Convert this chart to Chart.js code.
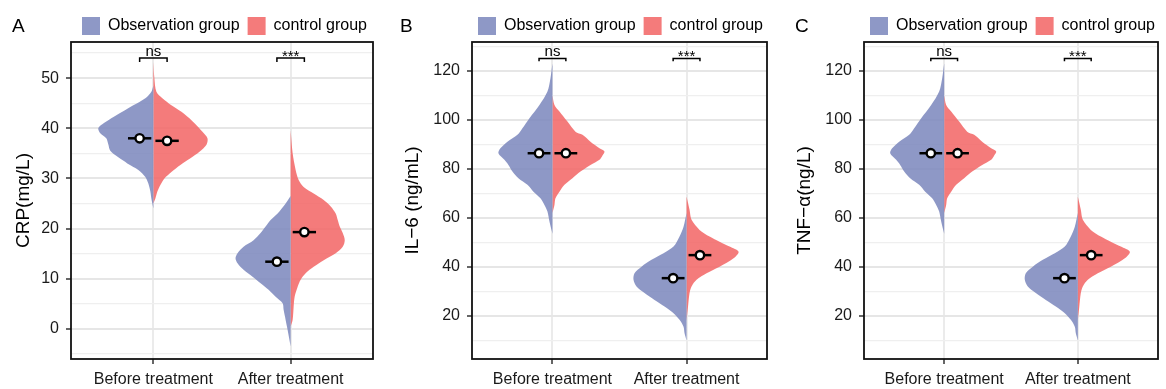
<!DOCTYPE html>
<html>
<head>
<meta charset="utf-8">
<script src="https://cdn.jsdelivr.net/npm/chart.js@4.4.1/dist/chart.umd.min.js"></script>
<style>
  body { margin: 0; background: #fff; }
  .panel { position: absolute; top: 0; height: 389px; }
</style>
</head>
<body>
<div class="panel" style="left:0;width:390px"><canvas id="chartA"></canvas></div>
<div class="panel" style="left:390px;width:388px"><canvas id="chartB"></canvas></div>
<div class="panel" style="left:780px;width:386px"><canvas id="chartC"></canvas></div>
<script>
const FONT = "'Liberation Sans', Arial, sans-serif";
const CATEGORIES = ['Before treatment', 'After treatment'];
const GROUPS = ['Observation group', 'control group'];
const SIG_LABELS = ['ns', '***'];
const OBS_COLOR = 'rgba(122,134,188,0.85)';
const CTL_COLOR = 'rgba(242,100,100,0.85)';

// violin outlines: [value, half-width density], top to bottom
const crpBeforeObs = [[48.5,0],[47.3,2],[46.0,8],[44.6,20],[43.3,31],[42.0,42],[40.8,51],[40.0,55],[39.0,53],[38.0,47],[36.8,45],[35.5,43],[34.2,35],[33.0,26],[31.7,15],[30.3,8],[29.0,5],[27.4,3],[26.0,2],[24.0,0]];
const crpBeforeCtl = [[53.2,0],[50.0,1],[47.3,3],[46.0,9],[44.6,18],[43.3,28],[42.0,36],[40.6,43],[39.3,49],[38.0,54],[36.7,53],[35.3,46],[34.0,37],[32.7,27],[31.3,18],[30.0,11],[28.7,7],[27.4,4],[26.0,2],[25.0,0]];
const crpAfterObs = [[26.5,0],[25.0,5],[23.0,13],[21.7,20],[20.4,25],[19.1,30],[17.7,37],[16.4,47],[15.1,53],[14.1,55],[13.1,53],[11.8,47],[10.4,38],[9.1,30],[7.8,22],[6.4,15],[5.1,8],[3.8,7],[1.8,5],[-0.2,3],[-3.5,0]];
const crpAfterCtl = [[39.6,0],[35.0,2],[31.7,5],[29.7,8],[28.3,13],[27.0,23],[25.7,33],[24.4,40],[23.0,45],[21.7,47],[20.4,49],[19.1,52],[17.7,54],[16.4,52],[15.1,45],[13.7,33],[12.4,23],[11.1,15],[9.8,10],[8.4,7],[6.4,4],[4.4,3],[1.8,2],[0.5,0]];
const crpMeanObs = [38.0, 13.4];
const crpMeanCtl = [37.5, 19.3];
const crpSigY = [54.0, 54.0];
const crpTicks = [0, 10, 20, 30, 40, 50];
const crpMinor = [-5, 5, 15, 25, 35, 45, 55];

const il6BeforeObs = [[123,0],[117.0,2],[111.6,5],[106.1,13],[100.7,23],[96.6,30],[93.9,35],[91.1,45],[88.4,52],[86.4,54],[83.7,48],[81.6,44],[78.9,40],[76.2,34],[73.5,25],[70.7,19],[68.0,12],[65.3,8],[62.6,5],[58.5,3],[53.5,0]];
const il6BeforeCtl = [[110,0],[106.1,2],[103.4,7],[99.3,15],[95.2,23],[93.9,30],[91.1,38],[88.4,47],[87.1,52],[85.5,50],[83.7,47],[81.6,38],[78.9,28],[76.2,20],[73.5,12],[70.7,7],[68.0,3],[65.3,2],[62,0]];
const il6AfterObs = [[62,0],[59,1.5],[56.4,3],[52.4,7],[48.3,13],[45.6,23],[42.9,35],[40.1,45],[37.4,52],[34.7,53],[32.0,50],[29.3,42],[26.5,32],[23.8,22],[21.1,13],[18.4,7],[15.6,3],[12.9,2],[10,0]];
const il6AfterCtl = [[68.7,0],[63.3,3],[59.2,5],[55.1,13],[52.4,23],[50.3,33],[48.3,43],[46.2,52],[43.5,47],[40.1,33],[37.4,20],[34.7,10],[32.0,5],[29.3,3],[23.8,1.5],[18,0]];
const il6MeanObs = [86.4, 35.4];
const il6MeanCtl = [86.4, 44.8];
const il6SigY = [125.1, 125.1];

const tnfBeforeObs = [[123,0],[117.0,2],[111.6,5],[106.1,13],[100.7,23],[96.6,30],[93.9,35],[91.1,45],[88.4,52],[86.4,54],[83.7,48],[81.6,44],[78.9,40],[76.2,34],[73.5,25],[70.7,19],[68.0,12],[65.3,8],[62.6,5],[58.5,3],[53.5,0]];
const tnfBeforeCtl = [[110,0],[106.1,2],[103.4,7],[99.3,15],[95.2,23],[93.9,30],[91.1,38],[88.4,47],[87.1,52],[85.5,50],[83.7,47],[81.6,38],[78.9,28],[76.2,20],[73.5,12],[70.7,7],[68.0,3],[65.3,2],[62,0]];
const tnfAfterObs = [[62,0],[59,1.5],[56.4,3],[52.4,7],[48.3,13],[45.6,23],[42.9,35],[40.1,45],[37.4,52],[34.7,53],[32.0,50],[29.3,42],[26.5,32],[23.8,22],[21.1,13],[18.4,7],[15.6,3],[12.9,2],[10,0]];
const tnfAfterCtl = [[68.7,0],[63.3,3],[59.2,5],[55.1,13],[52.4,23],[50.3,33],[48.3,43],[46.2,52],[43.5,47],[40.1,33],[37.4,20],[34.7,10],[32.0,5],[29.3,3],[23.8,1.5],[18,0]];
const tnfMeanObs = [86.4, 35.4];
const tnfMeanCtl = [86.4, 44.8];
const tnfSigY = [125.1, 125.1];

const cytTicks = [20, 40, 60, 80, 100, 120];
const cytMinor = [10, 30, 50, 70, 90, 110, 130];

function makePanel(id, p) {
    const datasets = [];
    const all = [...p.major, ...p.minor].sort((a, b) => a - b);

    // half violins (drawn underneath everything else)
    p.violins.forEach((pair, i) => {
        const c = i + 1;
        [0, 1].forEach(g => {
            const side = g === 0 ? -1 : 1;
            datasets.push({
                data: pair[g].map(([y, d]) => ({ x: c + side * d * p.dens, y })),
                showLine: true, fill: 'shape', tension: 0.3, order: 5,
                backgroundColor: g === 0 ? OBS_COLOR : CTL_COLOR,
                borderWidth: 0, borderColor: 'rgba(0,0,0,0)', pointRadius: 0
            });
        });
    });

    // mean bars + points
    const pts = [];
    [p.meanObs, p.meanCtl].forEach((means, g) => {
        means.forEach((m, i) => {
            const cx = i + 1 + (g === 0 ? -0.1 : 0.1);
            datasets.push({
                data: [{ x: cx - 0.085, y: m }, { x: cx + 0.085, y: m }],
                showLine: true, fill: false, order: 3,
                borderColor: '#000', borderWidth: 2.5, pointRadius: 0
            });
            pts.push({ x: cx, y: m });
        });
    });
    datasets.push({
        data: pts, showLine: false, order: 1, pointRadius: 4.2, pointBorderWidth: 2.4,
        pointBackgroundColor: '#fff', pointBorderColor: '#000'
    });

    // significance brackets
    p.sigY.forEach((sy, i) => {
        const c = i + 1;
        datasets.push({
            data: [{ x: c - 0.1, y: sy - p.drop }, { x: c - 0.1, y: sy }, { x: c + 0.1, y: sy }, { x: c + 0.1, y: sy - p.drop }],
            showLine: true, fill: false, tension: 0, order: 1,
            borderColor: '#000', borderWidth: 1.5, pointRadius: 0
        });
    });

    const isMajor = v => p.major.includes(v);

    new Chart(document.getElementById(id), {
        type: 'scatter',
        data: { datasets },
        options: {
            responsive: true, maintainAspectRatio: false, animation: false,
            layout: { padding: { top: 9, left: 0, right: p.padRight, bottom: 0 } },
            plugins: {
                legend: {
                    position: 'top', align: 'end',
                    labels: {
                        boxWidth: 18, boxHeight: 18, padding: 8, color: '#000',
                        font: { family: FONT, size: 16 },
                        generateLabels: () => GROUPS.map((g, i) => ({
                            text: g, fillStyle: i ? CTL_COLOR : OBS_COLOR,
                            strokeStyle: 'rgba(0,0,0,0)', lineWidth: 0, hidden: false, datasetIndex: i
                        }))
                    }
                },
                tooltip: { enabled: false }
            },
            scales: {
                x: {
                    type: 'linear', min: 0.4, max: 2.6,
                    afterBuildTicks: s => { s.ticks = [1, 2].map(v => ({ value: v })); },
                    afterFit: s => { s.height = 30; },
                    ticks: {
                        autoSkip: false, maxRotation: 0, padding: 6, color: '#1a1a1a',
                        font: { family: FONT, size: 16 },
                        callback: v => CATEGORIES[v - 1]
                    },
                    grid: { color: '#ebebeb', lineWidth: 2, tickColor: '#333', tickLength: 5, tickWidth: 1.5 },
                    border: { display: false }
                },
                y: {
                    min: p.min, max: p.max,
                    afterBuildTicks: s => { s.ticks = all.map(v => ({ value: v })); },
                    afterFit: s => { s.width = p.axisWidth; },
                    ticks: {
                        autoSkip: false, padding: 7, color: '#1a1a1a',
                        font: { family: FONT, size: 16 },
                        callback: v => isMajor(v) ? String(v) : ''
                    },
                    grid: {
                        color: c => (c.tick && isMajor(c.tick.value)) ? '#e6e6e6' : '#efefef',
                        lineWidth: c => (c.tick && isMajor(c.tick.value)) ? 2 : 1.2,
                        tickColor: c => (c.tick && isMajor(c.tick.value)) ? '#333' : 'rgba(0,0,0,0)',
                        tickLength: 5, tickWidth: 1.5
                    },
                    title: {
                        display: true, text: p.title, color: '#000',
                        font: { family: FONT, size: 19 }, padding: { top: p.titlePad, bottom: 0 }
                    },
                    border: { display: false }
                }
            }
        },
        plugins: [{
            id: 'panelExtras',
            beforeInit(chart) {
                const fit = chart.legend.fit;
                chart.legend.fit = function () { fit.call(this); this.height = 33; };
            },
            afterLayout(chart) {
                chart.legend.left += p.legendShift;
                chart.legend.right += p.legendShift;
            },
            afterDatasetsDraw(chart) {
                const { ctx, chartArea: a, scales: { x, y } } = chart;
                ctx.save();
                ctx.strokeStyle = '#111';
                ctx.lineWidth = 1.8;
                ctx.strokeRect(a.left, a.top, a.right - a.left, a.bottom - a.top);
                ctx.fillStyle = '#000';
                ctx.textAlign = 'center';
                ctx.textBaseline = 'alphabetic';
                SIG_LABELS.forEach((t, i) => {
                    const px = x.getPixelForValue(i + 1);
                    const py = y.getPixelForValue(p.sigY[i]);
                    ctx.font = '15px ' + FONT;
                    ctx.fillText(t, px, t === 'ns' ? py - 2.5 : py + 3);
                });
                ctx.font = '19px ' + FONT;
                ctx.textAlign = 'left';
                ctx.fillText(p.letter, p.letterX, 32);
                ctx.restore();
            }
        }]
    });
}

makePanel('chartA', {
    letter: 'A', letterX: 12, title: 'CRP(mg/L)', titlePad: 12,
    min: -6, max: 57.2, major: crpTicks, minor: crpMinor,
    violins: [[crpBeforeObs, crpBeforeCtl], [crpAfterObs, crpAfterCtl]],
    meanObs: crpMeanObs, meanCtl: crpMeanCtl, sigY: crpSigY, drop: 0.8,
    dens: 1 / 137, axisWidth: 71, padRight: 17, legendShift: 2
});

makePanel('chartB', {
    letter: 'B', letterX: 10, title: 'IL\u22126 (ng/mL)', titlePad: 11,
    min: 2.4, max: 131.8, major: cytTicks, minor: cytMinor,
    violins: [[il6BeforeObs, il6BeforeCtl], [il6AfterObs, il6AfterCtl]],
    meanObs: il6MeanObs, meanCtl: il6MeanCtl, sigY: il6SigY, drop: 1.2,
    dens: 1 / 134, axisWidth: 82, padRight: 11, legendShift: 4
});

makePanel('chartC', {
    letter: 'C', letterX: 15, title: 'TNF\u2212\u03b1(ng/L)', titlePad: 13,
    min: 2.4, max: 131.8, major: cytTicks, minor: cytMinor,
    violins: [[tnfBeforeObs, tnfBeforeCtl], [tnfAfterObs, tnfAfterCtl]],
    meanObs: tnfMeanObs, meanCtl: tnfMeanCtl, sigY: tnfSigY, drop: 1.2,
    dens: 1 / 133.6, axisWidth: 84, padRight: 8, legendShift: 5
});
</script>
</body>
</html>
